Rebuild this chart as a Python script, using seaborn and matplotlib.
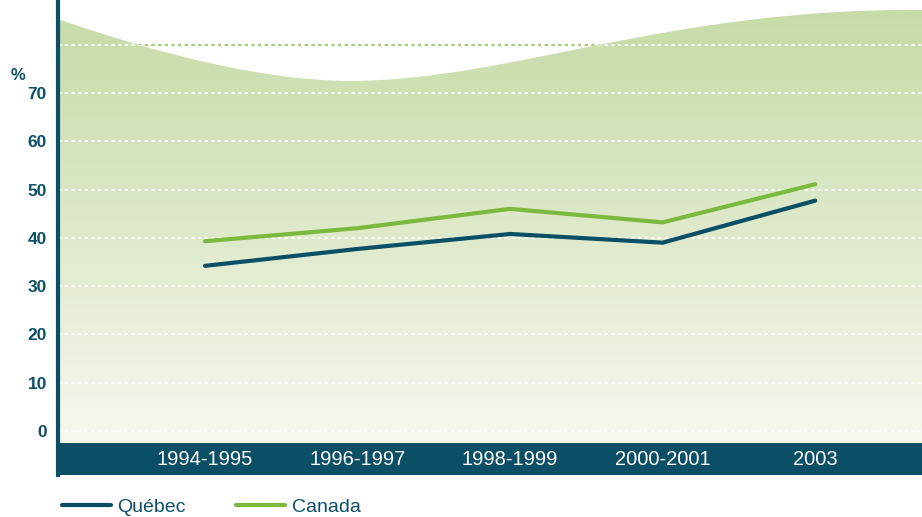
import numpy as np
import pandas as pd
import matplotlib.pyplot as plt
import seaborn as sns
from matplotlib.path import Path
from matplotlib.patches import PathPatch
from matplotlib.colors import LinearSegmentedColormap

# data (%)
periods = ["1994-1995", "1996-1997", "1998-1999", "2000-2001", "2003"]
quebec = [34.2, 37.7, 40.8, 39.0, 47.7]
canada = [39.3, 42.0, 46.0, 43.2, 51.1]
y_ticks = [0, 10, 20, 30, 40, 50, 60, 70]

teal = "#0b4f66"
green = "#7ab93c"

df = pd.DataFrame({
    "period": periods * 2,
    "value": quebec + canada,
    "region": ["Québec"] * len(periods) + ["Canada"] * len(periods),
})

sns.set_style("white")
plt.rcParams["font.family"] = ["Liberation Sans", "DejaVu Sans"]

fig = plt.figure(figsize=(9.22, 5.17), dpi=100)
ax = fig.add_axes([58 / 922, 42 / 517, 864 / 922, 475 / 517])
x0, x1 = -0.964, 4.70
y0, y1 = -9.11, 89.25
band_top = -2.5

# wavy green background with vertical gradient
verts = [(x0, band_top), (x0, 85.3),
         (-0.3, 78.0), (0.4, 72.5), (0.95, 72.5),
         (2.0, 72.5), (3.0, 87.5), (x1, 87.2),
         (x1, band_top), (x0, band_top)]
codes = [Path.MOVETO, Path.LINETO,
         Path.CURVE4, Path.CURVE4, Path.CURVE4,
         Path.CURVE4, Path.CURVE4, Path.CURVE4,
         Path.LINETO, Path.CLOSEPOLY]
shape = PathPatch(Path(verts, codes), facecolor="none", edgecolor="none")
ax.add_patch(shape)
cmap = LinearSegmentedColormap.from_list("bg", ["#f6f8ee", "#dde9c9", "#c6daa6"])
grad = np.linspace(0, 1, 256).reshape(-1, 1)
im = ax.imshow(grad, extent=[x0, x1, band_top, y1], aspect="auto", cmap=cmap,
               origin="lower", zorder=1)
im.set_clip_path(shape)

# gridlines
ax.axhline(80, color="#a6cc7c", lw=1.6, ls=(0, (1.5, 1.5)), zorder=0.5)
top_grid = ax.axhline(80, color="white", lw=1.2, ls=(0, (2, 2)), zorder=2)
top_grid.set_clip_path(shape)
for v in y_ticks:
    ax.axhline(v, color="white", lw=1.2, ls=(0, (2, 2)), zorder=2)

# dark x-axis band
ax.axhspan(y0, band_top, color=teal, zorder=3, lw=0)

sns.lineplot(data=df, x="period", y="value", hue="region",
             palette={"Québec": teal, "Canada": green},
             lw=3, ax=ax, zorder=4)
handles, labels = ax.get_legend_handles_labels()
ax.get_legend().remove()

ax.set_xlim(x0, x1)
ax.set_ylim(y0, y1)
ax.set_xlabel("")
ax.set_ylabel("")

for s in ["top", "right", "bottom"]:
    ax.spines[s].set_visible(False)
ax.spines["left"].set_color(teal)
ax.spines["left"].set_linewidth(3)
ax.spines["left"].set_zorder(5)

ax.set_yticks(y_ticks)
ax.set_yticklabels([str(v) for v in y_ticks], fontweight="bold", fontsize=12.5, color=teal)
ax.tick_params(axis="y", length=0, pad=8)

ax.set_xticks(range(len(periods)))
ax.set_xticklabels(periods, color="white", fontsize=14.5)
ax.tick_params(axis="x", length=0, pad=-11)
ax.xaxis.set_zorder(6)
for t in ax.get_xticklabels():
    t.set_va("center")

fig.text(18 / 922, 1 - 76 / 517, "%", ha="center", va="center",
         fontweight="bold", fontsize=12, color=teal)

leg = fig.legend(handles, labels, loc="center left", bbox_to_anchor=(62 / 922, 10 / 517),
                 ncol=2, frameon=False, handlelength=2.5, handletextpad=0.35,
                 columnspacing=2.6, borderpad=0, borderaxespad=0, labelcolor=teal,
                 prop={"family": "Liberation Sans", "size": 14})
for line in leg.get_lines():
    line.set_linewidth(3)

fig.savefig("out.png", dpi=100)
